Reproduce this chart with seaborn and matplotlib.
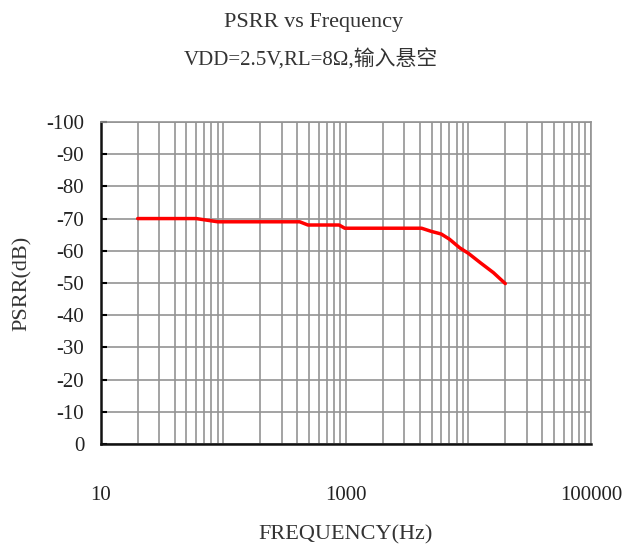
import matplotlib
matplotlib.use("Agg")
import matplotlib.pyplot as plt
import seaborn as sns
import pandas as pd
import numpy as np
from matplotlib.ticker import LogLocator, FixedLocator, FixedFormatter, NullFormatter

# ---- data ----
freq_hz = [20, 60, 90, 420, 490, 880, 980, 4150, 5000, 6000, 7000, 8500, 10000, 12500, 16000, 20000]
psrr_db = [70, 70, 69, 69, 68, 68, 67, 67, 66.0, 65.2, 63.6, 60.9, 59.2, 56.3, 53.2, 49.8]

ytick_values = [0, 10, 20, 30, 40, 50, 60, 70, 80, 90, 100]
ytick_labels = ["0", "-10", "-20", "-30", "-40", "-50", "-60", "-70", "-80", "-90", "-100"]
xtick_values = [10, 1000, 100000]
xtick_labels = ["10", "1000", "100000"]

title_line1 = "PSRR vs Frequency"
title_line2 = "VDD=2.5V,RL=8Ω,输入悬空"
xlabel = "FREQUENCY(Hz)"
ylabel = "PSRR(dB)"

df = pd.DataFrame({"freq": freq_hz, "psrr": psrr_db})

sns.set_theme(style="white")
plt.rcParams["font.family"] = ["Liberation Serif", "Noto Sans CJK SC", "DejaVu Sans"]

fig = plt.figure(figsize=(6.3, 5.57), dpi=100)
ax = fig.add_axes([0.160, 0.203, 0.778, 0.578])

sns.lineplot(data=df, x="freq", y="psrr", ax=ax, color="#ff0000", linewidth=2.5)

ax.set_xscale("log")
ax.set_xlim(10, 100000)
ax.set_ylim(0, 100)

grid_color = "#939393"
ax.xaxis.set_major_locator(FixedLocator(xtick_values))
ax.xaxis.set_major_formatter(FixedFormatter(xtick_labels))
ax.xaxis.set_minor_locator(LogLocator(base=10, subs=np.arange(1, 10), numticks=20))
ax.xaxis.set_minor_formatter(NullFormatter())
ax.grid(True, which="both", axis="x", color=grid_color, linewidth=1.2)
ax.set_yticks(ytick_values)
ax.set_yticklabels(ytick_labels)
ax.grid(True, which="major", axis="y", color=grid_color, linewidth=1.2)
ax.set_axisbelow(True)

ax.tick_params(axis="x", which="both", length=0, pad=30, labelsize=15, colors="#222222")
ax.tick_params(axis="y", which="major", direction="in", length=4, width=1.5,
               color="black", left=True, pad=12, labelsize=15, labelcolor="#222222")

for side in ["left", "bottom"]:
    ax.spines[side].set_color("#111111")
    ax.spines[side].set_linewidth(1.8)
for side in ["top", "right"]:
    ax.spines[side].set_color(grid_color)
    ax.spines[side].set_linewidth(1.2)
    ax.spines[side].set_visible(True)

ax.set_xlabel(xlabel, fontsize=16, color="#333333", labelpad=15)
ax.set_ylabel(ylabel, fontsize=16, color="#333333", labelpad=10)

fig.text(0.497, 0.960, title_line1, ha="center", va="center", fontsize=16, color="#333333")
fig.text(0.494, 0.892, title_line2, ha="center", va="center", fontsize=15, color="#333333")

fig.savefig("out.png", dpi=100)
